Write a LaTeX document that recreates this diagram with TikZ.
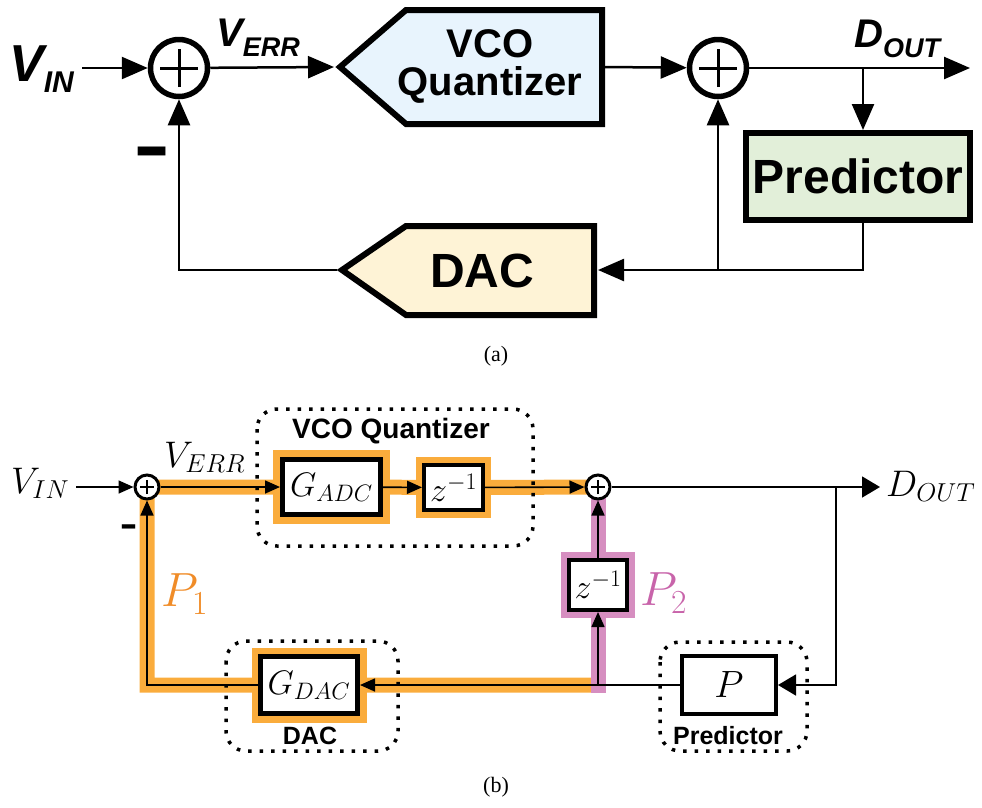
\RequirePackage{fix-cm}
\documentclass[tikz,border=0pt]{standalone}
\usepackage[no-math]{fontspec}
\setsansfont{Liberation Sans}
\newfontfamily\capfont{Liberation Serif}
\usepackage{graphicx}
\usetikzlibrary{arrows.meta,positioning,backgrounds,calc}
\definecolor{vcoBlue}{RGB}{232,244,253}
\definecolor{predGreen}{RGB}{226,239,217}
\definecolor{dacCream}{RGB}{254,243,214}
\definecolor{pathOrange}{RGB}{250,172,60}
\definecolor{pathPink}{RGB}{214,142,192}
\definecolor{txtOrange}{RGB}{240,140,40}
\definecolor{txtPink}{RGB}{200,100,170}
\newcommand{\subA}[2]{\raisebox{-0.55\height}{\fontsize{#1}{#1}\selectfont #2}}

\tikzset{
  bigsum/.style={circle, draw, fill=white, line width=5.5pt, minimum size=57pt, inner sep=0pt,
    path picture={\draw[line width=3pt]
      ([xshift=-19pt]path picture bounding box.center) -- ([xshift=19pt]path picture bounding box.center)
      ([yshift=-19pt]path picture bounding box.center) -- ([yshift=19pt]path picture bounding box.center);}},
  smallsum/.style={circle, draw, fill=white, line width=3pt, minimum size=24pt, inner sep=0pt,
    path picture={\draw[line width=1.5pt]
      ([xshift=-7pt]path picture bounding box.center) -- ([xshift=7pt]path picture bounding box.center)
      ([yshift=-7pt]path picture bounding box.center) -- ([yshift=7pt]path picture bounding box.center);}},
  sigA/.style={line width=2.5pt, -{Triangle[length=26pt,width=22pt]}},
  sigB/.style={line width=1.6pt, -{Triangle[length=15pt,width=13pt]}},
  sigBig/.style={line width=1.6pt, -{Triangle[length=18pt,width=21pt]}},
  blkA/.style={draw, line width=6pt, line join=miter},
  blkB/.style={draw, fill=white, line width=5pt, inner sep=0pt},
  grp/.style={draw, line width=3.5pt, dash pattern=on 3.5pt off 8pt, rounded corners=20pt},
  bandO/.style={pathOrange, line width=15pt},
  bandP/.style={pathPink, line width=15pt},
  hlO/.style={preaction={draw=pathOrange, line width=#1}},
  hlP/.style={preaction={draw=pathPink, line width=#1}},
  bigtxt/.style={font=\sffamily\bfseries\fontsize{#1}{#1}\selectfont},
  sigtxt/.style={font=\sffamily\bfseries\itshape\fontsize{#1}{#1}\selectfont, inner sep=0pt},
  mathtxt/.style={font=\fontsize{#1}{#1}\selectfont},
}

\begin{document}
\begin{tikzpicture}[x=1pt, y=-1pt]
\useasboundingbox (0,0) rectangle (982,807);

% ---------- (a) ----------
% Blocks
\draw[blkA, fill=vcoBlue] (340,67) -- (406,10) -- (602,10) -- (602,124) -- (406,124) -- cycle;
\node[bigtxt=40, align=center] (vco) at (490,66) {VCO\\[-2pt]Quantizer};
\coordinate (vcoIn)  at (334,67);
\coordinate (vcoOut) at (605,67);

\draw[blkA, fill=dacCream] (342,270) -- (406,226) -- (594,226) -- (594,315) -- (406,315) -- cycle;
\node[bigtxt=48] (dac) at (482,271) {DAC};
\coordinate (dacIn)  at (598,270);
\coordinate (dacOut) at (337,270);

\node[blkA, fill=predGreen, minimum width=224pt, minimum height=87pt, bigtxt=48] (pred) at (858,176.5) {Predictor};

% Summers
\node[bigsum] (sa) at (179,68) {};
\node[bigsum] (sb) at (718,68) {};

% Labels
\node[sigtxt=52, anchor=base west] (vin) at (9,81) {V\subA{30}{IN}};
\node[sigtxt=40, anchor=base west] (verr) at (216,46) {V\subA{27}{ERR}};
\node[sigtxt=40, anchor=base west] (dout) at (854,47) {D\subA{27}{OUT}};
\node[bigtxt=56] (minusA) at (152,161) {\scalebox{1}[1.6]{–}};

% Signals
\coordinate (brA)  at (863,68);
\coordinate (endA) at (970,68);
\coordinate (fbA)  at (863,270);
\coordinate (jA)   at (718,270);
\draw[sigA] ([xshift=8pt]vin.east |- sa.west) -- (sa.west);
\draw[sigA] (sa) -- (vcoIn);
\draw[sigA] (vcoOut) -- (sb);
\draw[sigA] (sb) -- (endA);
\draw[sigA] (brA) -- (brA |- pred.north);
\draw[sigA] (brA |- pred.south) -- (fbA) -- (dacIn);
\draw[sigA] (jA) -- (sb);
\draw[sigA] (dacOut) -| (sa);

\node[font=\capfont\fontsize{22}{22}\selectfont] (capA) at (496,356) {(a)};

% ---------- (b) ----------
% Blocks
\node[smallsum] (sa2) at (147,487) {};
\node[blkB, minimum width=98pt, minimum height=55pt, hlO=19pt, mathtxt=34] (gadc) at (331.5,487) {$G_{ADC}$};
\node[blkB, line width=4pt, minimum width=59pt, minimum height=45pt, hlO=16pt, mathtxt=34] (zt) at (453.5,487.5) {$z^{-1}$};
\node[smallsum] (sb2) at (598,487) {};
\node[blkB, line width=4pt, minimum width=58pt, minimum height=50pt, hlP=16pt, mathtxt=34] (zp) at (598,585) {$z^{-1}$};
\node[blkB, line width=5pt, minimum width=97pt, minimum height=57pt, hlO=18pt, mathtxt=34] (gdac) at (309,685) {$G_{DAC}$};
\node[blkB, line width=4pt, minimum width=94pt, minimum height=58pt, mathtxt=38] (pb) at (729,685) {$P$};

% Groups
\draw[grp] (257,409) rectangle (533,546);
\draw[grp] (226,641) rectangle (398,751);
\draw[grp] (660,642) rectangle (807,751);
\node[bigtxt=28] (grpVco)  at (391,431) {VCO Quantizer};
\node[bigtxt=25] (grpDac)  at (310,736) {DAC};
\node[bigtxt=25] (grpPred) at (728,736) {Predictor};

% Labels
\node[mathtxt=37, anchor=base west, inner sep=0pt] (vinb) at (11,493) {$V_{IN}$};
\node[mathtxt=37, anchor=base west, inner sep=0pt] (verrb) at (164,467) {$V_{ERR}$};
\node[mathtxt=37, anchor=base west, inner sep=0pt] (doutb) at (886,496) {$D_{OUT}$};
\node[mathtxt=48, text=txtOrange] (p1) at (185,594) {$P_1$};
\node[mathtxt=48, text=txtPink] (p2) at (664,593) {$P_2$};
\node[bigtxt=27] (minusB) at (129,532) {\scalebox{1}[1.6]{–}};

% Signals
\coordinate (brB)  at (836,487);
\coordinate (endB) at (880,487);
\coordinate (jB)   at (598,685);
\draw[sigB] ([xshift=7pt]vinb.east |- sa2.west) -- (sa2.west);
\draw[sigB] (sa2) -- (gadc);
\draw[sigB] (gadc) -- (zt);
\draw[sigB] (zt) -- (sb2);
\draw[sigBig] (sb2) -- (endB);
\draw[sigBig] (brB) |- (pb.east);
\draw[sigB] (pb.west) -- (gdac.east);
\draw[sigB] (jB) -- (zp);
\draw[sigB] (zp) -- (sb2);
\draw[sigB] (gdac.west) -| (sa2);

% Highlighted paths
\begin{scope}[on background layer]
\draw[bandO] (jB) -- (gdac.east) (gdac.west) -| (sa2.center) -- (gadc.west)
  (gadc.east) -- (zt.west) (zt.east) -- (sb2.center);
\draw[bandP] ($(jB)+(0,7.5)$) -- (sb2.center);
\end{scope}

\node[font=\capfont\fontsize{22}{22}\selectfont] (capB) at (496,787) {(b)};

\end{tikzpicture}
\end{document}
